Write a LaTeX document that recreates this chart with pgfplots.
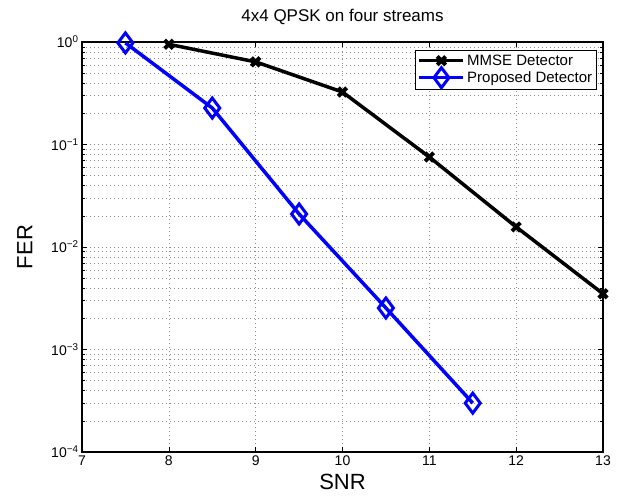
\documentclass[border=0pt]{standalone}
\usepackage{fontspec}
\setmainfont{Liberation Sans}
\usepackage{pgfplots}
\pgfplotsset{compat=1.18}

\begin{document}
\begin{tikzpicture}[x=1pt,y=1pt]
\begin{axis}[
    scale only axis,
    width=521pt, height=410pt,
    ymode=log,
    xmin=7, xmax=13,
    ymin=1e-4, ymax=1,
    xtick={7,8,...,13},
    ytick={1e-4,1e-3,1e-2,1e-1,1},
    yticklabels={10\textsuperscript{−4},10\textsuperscript{−3},10\textsuperscript{−2},10\textsuperscript{−1},10\textsuperscript{0}},
    /pgf/number format/assume math mode=true,
    ticklabel style={font=\fontsize{14}{16}\selectfont},
    tick align=inside,
    major tick length=5pt,
    minor tick length=3pt,
    tick style={black, thin},
    grid=both,
    xminorgrids=false,
    major grid style={dash pattern=on 1pt off 3pt, gray!90, thin},
    minor grid style={dash pattern=on 1pt off 3pt, gray!90, thin},
    axis line style={black, line width=1.2pt},
    title={4x4 QPSK on four streams},
    title style={font=\fontsize{17}{19}\selectfont, yshift=8pt},
    xlabel={SNR},
    ylabel={FER},
    label style={font=\fontsize{22}{24}\selectfont},
    xlabel style={yshift=-2pt},
    ylabel style={yshift=12pt},
    legend style={at={(0.988,0.98)}, anchor=north east, draw=black, line width=1pt,
        font=\fontsize{15}{17}\selectfont, inner sep=2pt, row sep=-1pt, cells={anchor=west}},
    legend cell align=left,
    legend image code/.code={\draw[mark repeat=2,mark phase=2] plot coordinates {(0pt,0pt) (22pt,0pt) (44pt,0pt)};},
]
\addplot[black, line width=3.5pt, mark=x, mark size=6pt, mark options={line width=4pt}]
coordinates {
    (8, 0.95)
    (9, 0.64)
    (10, 0.325)
    (11, 0.0755)
    (12, 0.0157)
    (13, 0.0035)
};
\addlegendentry{MMSE Detector}
\addplot[blue, line width=3.5pt, mark=diamond, mark size=10pt, mark options={line width=3pt}]
coordinates {
    (7.5, 0.98)
    (8.5, 0.227)
    (9.5, 0.021)
    (10.5, 0.00254)
    (11.5, 0.0003)
};
\addlegendentry{Proposed Detector}
\end{axis}
\pgfresetboundingbox
\useasboundingbox (-82,-48) rectangle (544,452);
\end{tikzpicture}
\end{document}
